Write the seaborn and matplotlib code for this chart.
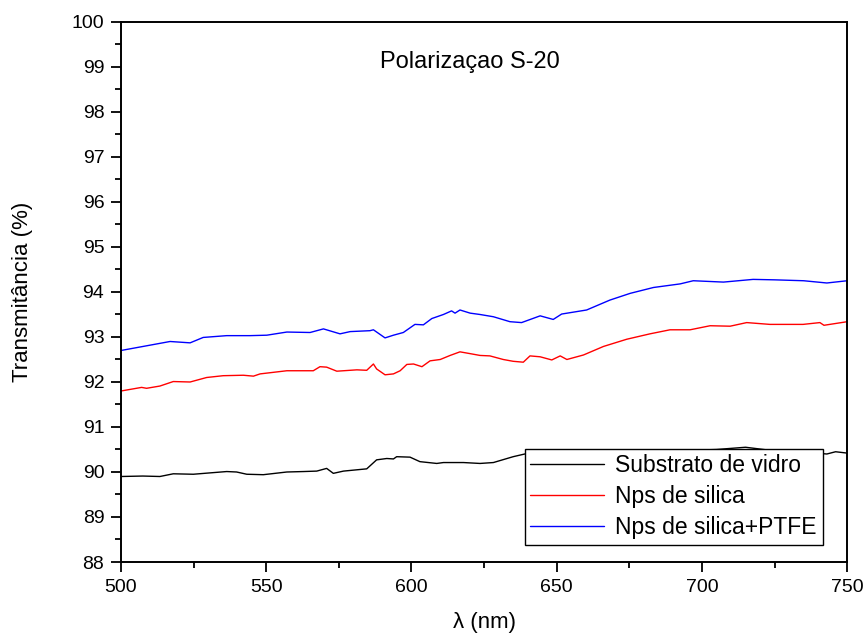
import matplotlib
matplotlib.use("Agg")
import matplotlib.pyplot as plt
from matplotlib.ticker import MultipleLocator
import seaborn as sns
import pandas as pd

x_black = [500, 507.5, 513.4, 518, 524.9, 530.6, 536.4, 539.8, 543.3, 549, 557.1, 562.8, 567.4,
           570.8, 573.1, 576.6, 584.6, 588, 591.5, 593.8, 594.9, 599.5, 602.9, 608.7, 611, 615.6,
           617.9, 623.6, 628.2, 635, 639, 650, 665, 680, 695, 705, 715, 725, 735, 743, 746, 750]
y_black = [89.90, 89.91, 89.90, 89.96, 89.95, 89.98, 90.01, 90.00, 89.95, 89.94, 90.00, 90.01, 90.02,
           90.08, 89.97, 90.02, 90.07, 90.27, 90.30, 90.29, 90.34, 90.33, 90.23, 90.19, 90.21, 90.21,
           90.21, 90.19, 90.21, 90.34, 90.40, 90.42, 90.44, 90.46, 90.48, 90.50, 90.55, 90.47, 90.44,
           90.40, 90.45, 90.42]

x_red = [500, 507.1, 508.8, 513.4, 518, 523.8, 529.5, 535.2, 542.1, 545.6, 547.9, 557.1, 566.2,
         568.5, 570.8, 574.3, 581.2, 584.6, 586.9, 588, 590.9, 593.8, 596.1, 598.4, 600.7, 603.6,
         606.4, 609.9, 613.3, 616.7, 620.2, 623.6, 627, 631.6, 635, 638.5, 640.8, 644.3, 648.3,
         651.2, 653.5, 659.2, 666.1, 674.1, 682.1, 689, 695.9, 702.8, 709.7, 715.4, 723.4, 734.8,
         740.6, 742, 750]
y_red = [91.80, 91.88, 91.86, 91.91, 92.01, 92.00, 92.10, 92.14, 92.15, 92.13, 92.18, 92.25, 92.25,
         92.34, 92.33, 92.24, 92.27, 92.26, 92.40, 92.29, 92.16, 92.18, 92.25, 92.39, 92.40, 92.34,
         92.47, 92.50, 92.59, 92.67, 92.63, 92.59, 92.58, 92.50, 92.46, 92.44, 92.58, 92.56, 92.49,
         92.58, 92.50, 92.60, 92.79, 92.95, 93.07, 93.16, 93.16, 93.25, 93.24, 93.32, 93.28, 93.28,
         93.32, 93.26, 93.34]

x_blue = [500, 516.9, 523.8, 528.3, 536.4, 544.4, 550.2, 557.1, 565.1, 569.7, 575.4, 578.9, 585.7,
          586.9, 590.9, 593.8, 597.2, 601.2, 604.1, 607, 611, 613.8, 615, 616.7, 620.2, 623.6, 628.2,
          633.9, 637.9, 644.3, 648.8, 651.7, 660.3, 668.3, 675.3, 683.3, 692.5, 697, 707.4, 717.6,
          725, 735, 743, 750]
y_blue = [92.70, 92.90, 92.87, 92.99, 93.03, 93.03, 93.04, 93.11, 93.10, 93.18, 93.07, 93.12, 93.14,
          93.16, 92.98, 93.04, 93.10, 93.28, 93.27, 93.41, 93.50, 93.58, 93.53, 93.60, 93.53, 93.50,
          93.45, 93.34, 93.32, 93.47, 93.39, 93.51, 93.60, 93.82, 93.97, 94.10, 94.18, 94.25, 94.22,
          94.28, 94.27, 94.25, 94.20, 94.25]

labels = ["Substrato de vidro", "Nps de silica", "Nps de silica+PTFE"]
colors = ["#000000", "#ff0000", "#0000ff"]

sns.set_style("ticks")
plt.rcParams['font.family'] = ['Liberation Sans', 'DejaVu Sans']
plt.rcParams['text.color'] = 'black'
plt.rcParams['axes.labelcolor'] = 'black'
plt.rcParams['xtick.color'] = 'black'
plt.rcParams['ytick.color'] = 'black'

fig = plt.figure(figsize=(8.66, 6.39), dpi=100)
ax = fig.add_axes([0.1397, 0.1205, 0.8386, 0.8451])

series = [(x_black, y_black), (x_red, y_red), (x_blue, y_blue)]
for (xs, ys), lab, col in zip(series, labels, colors):
    df = pd.DataFrame({"x": xs, "y": ys})
    sns.lineplot(data=df, x="x", y="y", ax=ax, color=col, lw=1.0, label=lab,
                 estimator=None, sort=False)

ax.set_xlim(500, 750)
ax.set_ylim(88, 100)
ax.xaxis.set_major_locator(MultipleLocator(50))
ax.xaxis.set_minor_locator(MultipleLocator(25))
ax.yaxis.set_major_locator(MultipleLocator(1))
ax.yaxis.set_minor_locator(MultipleLocator(0.5))
ax.tick_params(which='major', direction='out', length=7, width=1.3, labelsize=14, pad=5,
               top=False, right=False)
ax.tick_params(which='minor', direction='out', length=4, width=1.3, top=False, right=False)
for s in ax.spines.values():
    s.set_linewidth(1.4)
    s.set_color('black')

ax.set_xlabel("λ (nm)", fontsize=16, labelpad=12)
ax.set_ylabel("Transmitância (%)", fontsize=16, labelpad=28)
ax.text(620, 99.1, "Polarizaçao S-20", fontsize=17, ha='center', va='center')

leg = ax.legend(loc='upper right', bbox_to_anchor=(0.966, 0.21), fontsize=16.5, frameon=True,
                fancybox=False, edgecolor='black', framealpha=1, borderpad=0.25,
                labelspacing=0.35, handlelength=3.2, handletextpad=0.5, borderaxespad=0)
leg.get_frame().set_linewidth(1.0)

fig.savefig("out.png", dpi=100)
